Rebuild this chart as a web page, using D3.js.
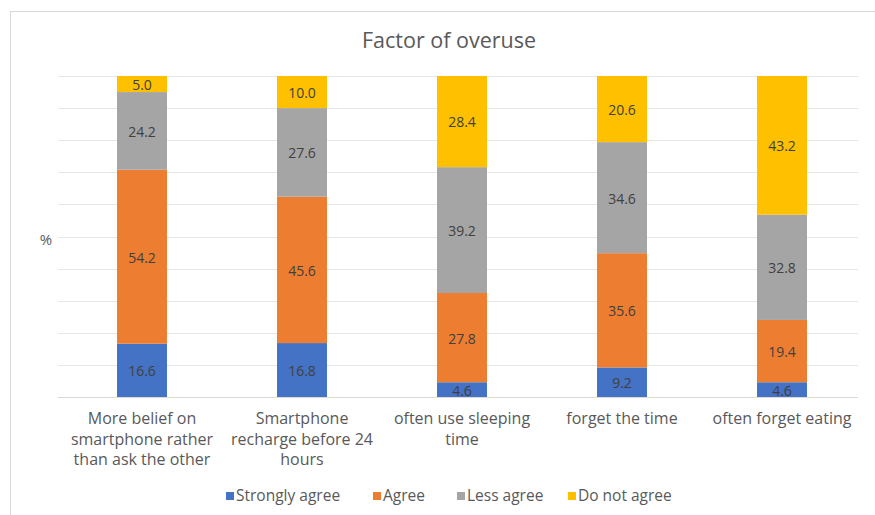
<!DOCTYPE html>
<html>
<head>
<meta charset="utf-8">
<script src="https://cdn.jsdelivr.net/npm/d3@7"></script>
<style>
  body { margin: 0; background: #fff; }
  svg { display: block; font-family: "Open Sans", Lato, sans-serif; }
</style>
</head>
<body>
<svg id="chart" width="875" height="515"></svg>
<script>
// Categories (multi-line labels) and the four response series, in percent
const categories = [
  ["More belief on", "smartphone rather", "than ask the other"],
  ["Smartphone", "recharge before 24", "hours"],
  ["often use sleeping", "time"],
  ["forget the time"],
  ["often forget eating"]
];
const seriesNames = ["Strongly agree", "Agree", "Less agree", "Do not agree"];
const stronglyAgree = [16.6, 16.8, 4.6, 9.2, 4.6];
const agree         = [54.2, 45.6, 27.8, 35.6, 19.4];
const lessAgree     = [24.2, 27.6, 39.2, 34.6, 32.8];
const doNotAgree    = [5.0, 10.0, 28.4, 20.6, 43.2];
const colors = ["#4472C4", "#ED7D31", "#A5A5A5", "#FFC000"];
const yTicks = [0, 10, 20, 30, 40, 50, 60, 70, 80, 90, 100];

const svg = d3.select("#chart");

// chart frame
svg.append("rect")
  .attr("x", 10.5).attr("y", 11.5)
  .attr("width", 880).attr("height", 520)
  .attr("fill", "none").attr("stroke", "#d9d9d9");

const margin = { left: 62, right: 13, top: 76, bottom: 118 };
const W = 875, H = 515;

const rows = categories.map((c, i) => ({
  idx: i,
  "Strongly agree": stronglyAgree[i],
  "Agree": agree[i],
  "Less agree": lessAgree[i],
  "Do not agree": doNotAgree[i]
}));

const x = d3.scaleBand()
  .domain(d3.range(categories.length))
  .range([margin.left, W - margin.right])
  .paddingInner(0.6875).paddingOuter(0.34375);

const y = d3.scaleLinear().domain([0, 100]).range([H - margin.bottom, margin.top]);

// horizontal gridlines
svg.append("g")
  .selectAll("line")
  .data(yTicks)
  .join("line")
  .attr("x1", 58).attr("x2", 858)
  .attr("y1", d => Math.round(y(d)) + 0.5)
  .attr("y2", d => Math.round(y(d)) + 0.5)
  .attr("stroke", "#e6e6e6");

const stack = d3.stack().keys(seriesNames);
const layers = stack(rows);

const g = svg.append("g");
layers.forEach((layer, li) => {
  g.append("g")
    .attr("fill", colors[li])
    .selectAll("rect")
    .data(layer)
    .join("rect")
    .attr("x", d => x(d.data.idx))
    .attr("width", x.bandwidth())
    .attr("y", d => y(d[1]))
    .attr("height", d => y(d[0]) - y(d[1]));

  g.append("g")
    .selectAll("text")
    .data(layer)
    .join("text")
    .attr("x", d => x(d.data.idx) + x.bandwidth() / 2)
    .attr("y", d => (y(d[0]) + y(d[1])) / 2 + 1)
    .attr("dy", "0.35em")
    .attr("text-anchor", "middle")
    .attr("font-size", 14)
    .attr("fill", "#404040")
    .text(d => (d[1] - d[0]).toFixed(1));
});

// baseline
svg.append("line")
  .attr("x1", 58).attr("x2", 858)
  .attr("y1", Math.round(y(0)) + 0.5).attr("y2", Math.round(y(0)) + 0.5)
  .attr("stroke", "#d9d9d9");

// category labels
const xl = svg.append("g");
categories.forEach((lines, i) => {
  const t = xl.append("text")
    .attr("x", x(i) + x.bandwidth() / 2)
    .attr("y", 424)
    .attr("text-anchor", "middle")
    .attr("font-size", 16)
    .attr("fill", "#595959");
  lines.forEach((ln, j) => {
    t.append("tspan").attr("x", x(i) + x.bandwidth() / 2).attr("dy", j === 0 ? 0 : 20.5).text(ln);
  });
});

// title
svg.append("text")
  .attr("x", 449).attr("y", 47.5)
  .attr("text-anchor", "middle")
  .attr("font-size", 21.5)
  .attr("fill", "#595959")
  .text("Factor of overuse");

// y-axis title
svg.append("text")
  .attr("x", 46).attr("y", 245)
  .attr("text-anchor", "middle")
  .attr("font-size", 15)
  .attr("fill", "#595959")
  .text("%");

// legend
const legendX = [226, 373, 457, 568];
const lg = svg.append("g");
seriesNames.forEach((name, i) => {
  lg.append("rect")
    .attr("x", legendX[i]).attr("y", 492)
    .attr("width", 8).attr("height", 8)
    .attr("fill", colors[i]);
  lg.append("text")
    .attr("x", legendX[i] + 10).attr("y", 496)
    .attr("dy", "0.35em")
    .attr("font-size", 15.5)
    .attr("fill", "#595959")
    .text(name);
});
</script>
</body>
</html>
